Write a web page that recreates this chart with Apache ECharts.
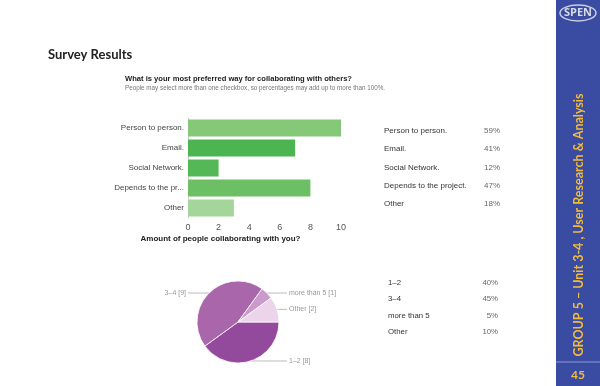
<!DOCTYPE html>
<html>
<head>
<meta charset="utf-8">
<script src="https://cdn.jsdelivr.net/npm/echarts@6/dist/echarts.min.js"></script>
<style>html,body{margin:0;padding:0;background:#fff}#c{width:600px;height:386px}</style>
</head>
<body>
<div id="c"></div>
<script>
// ---- data ----
const barCategories = ['Person to person.', 'Email.', 'Social Network.', 'Depends to the project.', 'Other'];
const barValues = [10, 7, 2, 8, 3];
const barPercents = ['59%', '41%', '12%', '47%', '18%'];
const xTickMin = 0, xTickMax = 10, xTickStep = 2;

const pieCategories = ['1–2', '3–4', 'more than 5', 'Other'];
const pieValues = [8, 9, 1, 2];
const piePercents = ['40%', '45%', '5%', '10%'];

// ---- styles ----
const barColors = ['#84c878', '#4cb450', '#55b857', '#6cbf64', '#a4d69c'];
const pieColors = ['#944a9c', '#a966ab', '#c99acb', '#ecd4eb'];
const PIE_CX = 238, PIE_CY = 322, PIE_R = 41;

const chart = echarts.init(document.getElementById('c'), null, {renderer: 'canvas'});

const graphics = [];
// sidebar
graphics.push({type: 'rect', shape: {x: 556, y: 0, width: 44, height: 386}, style: {fill: '#3a4ba2'}, z: 1});
graphics.push({type: 'line', shape: {x1: 556, y1: 362, x2: 600, y2: 362}, style: {stroke: '#8d9bd6', lineWidth: 1}, z: 2});
graphics.push({type: 'ellipse', shape: {cx: 578, cy: 13, rx: 18, ry: 8}, style: {fill: 'none', stroke: '#c8cce0', lineWidth: 1.5}, z: 2});
graphics.push({type: 'text', x: 578, y: 13, style: {text: 'SPEN', fill: '#d8dbe8', font: 'bold 11px "Open Sans", sans-serif', align: 'center', verticalAlign: 'middle'}, z: 3});
graphics.push({type: 'text', x: 579, y: 225, rotation: Math.PI / 2, style: {text: 'GROUP 5 – Unit 3-4 , User Research & Analysis', fill: '#f1bb3c', font: 'bold 12.5px Lato, sans-serif', align: 'center', verticalAlign: 'middle'}, z: 3});
graphics.push({type: 'text', x: 578, y: 375, style: {text: '45', fill: '#f1bb3c', font: 'bold 12px Lato, sans-serif', align: 'center', verticalAlign: 'middle'}, z: 3});

// headings
graphics.push({type: 'text', x: 48, y: 55, style: {text: 'Survey Results', fill: '#222', font: 'bold 13px Lato, sans-serif', verticalAlign: 'middle'}});
graphics.push({type: 'text', x: 125, y: 79, style: {text: 'What is your most preferred way for collaborating with others?', fill: '#222', font: 'bold 7.6px "Liberation Sans", Arial, sans-serif', verticalAlign: 'middle'}});
graphics.push({type: 'text', x: 125, y: 88, style: {text: 'People may select more than one checkbox, so percentages may add up to more than 100%.', fill: '#777', font: '6.3px "Liberation Sans", Arial, sans-serif', verticalAlign: 'middle'}});

// table 1
barCategories.forEach((c, i) => {
  const y = 131 + i * 18.2;
  graphics.push({type: 'text', x: 384, y: y, style: {text: c, fill: '#333', font: '8px "Liberation Sans", Arial, sans-serif', verticalAlign: 'middle'}});
  graphics.push({type: 'text', x: 500, y: y, style: {text: barPercents[i], fill: '#666', font: '8px "Liberation Sans", Arial, sans-serif', align: 'right', verticalAlign: 'middle'}});
});
// table 2
pieCategories.forEach((c, i) => {
  const y = 283 + i * 16.3;
  graphics.push({type: 'text', x: 388, y: y, style: {text: c, fill: '#333', font: '7.8px "Liberation Sans", Arial, sans-serif', verticalAlign: 'middle'}});
  graphics.push({type: 'text', x: 498, y: y, style: {text: piePercents[i], fill: '#666', font: '7.8px "Liberation Sans", Arial, sans-serif', align: 'right', verticalAlign: 'middle'}});
});

const option = {
  animation: false,
  backgroundColor: '#ffffff',
  grid: {left: 188, right: 259, top: 118, bottom: 168, containLabel: false},
  xAxis: {
    type: 'value', min: xTickMin, max: xTickMax, interval: xTickStep,
    axisLine: {show: false}, axisTick: {show: false}, splitLine: {show: false},
    axisLabel: {color: '#555', fontSize: 9, margin: 5, fontFamily: 'Liberation Sans, Arial, sans-serif'},
    name: 'Amount of people collaborating with you?', nameLocation: 'middle', nameGap: 17,
    nameTextStyle: {color: '#222', fontWeight: 'bold', fontSize: 8, fontFamily: 'Liberation Sans, Arial, sans-serif', padding: [0, 88, 0, 0]}
  },
  yAxis: {
    type: 'category', inverse: true, data: barCategories,
    axisLine: {show: true, lineStyle: {color: '#cccccc'}}, axisTick: {show: false},
    axisLabel: {color: '#444', fontSize: 8, margin: 4, fontFamily: 'Liberation Sans, Arial, sans-serif',
      formatter: v => v.length > 17 ? v.slice(0, 17) + '...' : v}
  },
  series: [{
    type: 'bar', barCategoryGap: '15%',
    data: barValues.map((v, i) => ({value: v, itemStyle: {color: barColors[i]}}))
  }, {
    type: 'pie', left: 0, top: 0, width: 600, height: 386,
    center: [PIE_CX, PIE_CY], radius: PIE_R, startAngle: 0, clockwise: true,
    avoidLabelOverlap: false,
    itemStyle: {borderColor: '#ffffff', borderWidth: 0.8},
    label: {show: true, formatter: p => p.name + ' [' + p.value + ']', color: '#999', fontSize: 7, fontFamily: 'Liberation Sans, Arial, sans-serif'},
    labelLine: {show: true, length: 0, length2: 10, lineStyle: {color: '#bbbbbb', width: 1}},
    labelLayout: function (params) {
      const pts = params.labelLinePoints;
      if (!pts) return {};
      const p0 = pts[0];
      const isLeft = p0[0] < PIE_CX;
      const endX = isLeft ? PIE_CX - 50 : PIE_CX + 49;
      return {
        x: isLeft ? endX - 2 : endX + 2, y: p0[1],
        align: isLeft ? 'right' : 'left', verticalAlign: 'middle',
        labelLinePoints: [p0, p0, [endX, p0[1]]]
      };
    },
    data: pieCategories.map((c, i) => ({name: c, value: pieValues[i], itemStyle: {color: pieColors[i]}}))
  }],
  graphic: {elements: graphics}
};
chart.setOption(option);
</script>
</body>
</html>
